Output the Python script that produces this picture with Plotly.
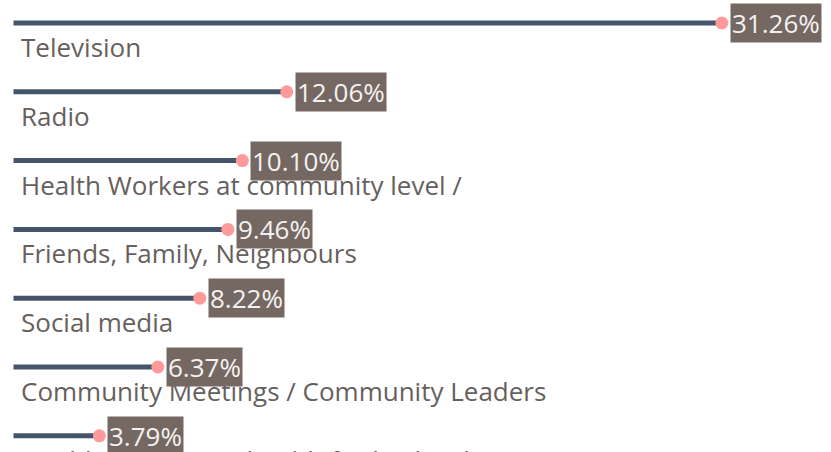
import plotly.graph_objects as go

categories = [
    "Television",
    "Radio",
    "Health Workers at community level /",
    "Friends, Family, Neighbours",
    "Social media",
    "Community Meetings / Community Leaders",
    "Health Workers at health facility level",
]
values = [31.26, 12.06, 10.10, 9.46, 8.22, 6.37, 3.79]
value_labels = ["31.26%", "12.06%", "10.10%", "9.46%", "8.22%", "6.37%", "3.79%"]

W, H = 831, 452
x0_px, px_per = 13.5, 22.66
y0_px, row_px = 23.0, 68.8

fig = go.Figure()
ys = list(range(len(categories)))
for i, v in enumerate(values):
    fig.add_trace(go.Scatter(x=[0, v], y=[i, i], mode="lines",
                             line=dict(color="#44546A", width=5),
                             hoverinfo="skip", showlegend=False))
fig.add_trace(go.Scatter(x=values, y=ys, mode="markers",
                         marker=dict(color="#FF9A9A", size=13, line=dict(width=0)),
                         hoverinfo="skip", showlegend=False))

font_lbl = "Open Sans"
for i, c in enumerate(categories):
    py = y0_px + row_px * i + 24
    fig.add_annotation(x=19 / W, xref="paper", y=1 - py / H, yref="paper",
                       text=c, showarrow=False, xanchor="left", yanchor="middle",
                       font=dict(family=font_lbl, size=26, color="#66605d"))
for i, (v, t) in enumerate(zip(values, value_labels)):
    fig.add_annotation(x=v, y=i, text=t, showarrow=False, xanchor="left",
                       yanchor="middle", xshift=8,
                       bgcolor="#756862", borderpad=1,
                       font=dict(family=font_lbl, size=26, color="#f4f2f1"))

fig.update_xaxes(range=[-x0_px / px_per, (W - x0_px) / px_per], visible=False)
fig.update_yaxes(range=[(H - y0_px) / row_px, -y0_px / row_px], visible=False)
fig.update_layout(width=W, height=H, margin=dict(l=0, r=0, t=0, b=0),
                  plot_bgcolor="white", paper_bgcolor="white", hovermode=False)
fig.write_html("out.html", config={"displayModeBar": False},
               post_script="document.body.style.margin='0';document.body.style.overflow='hidden';")
